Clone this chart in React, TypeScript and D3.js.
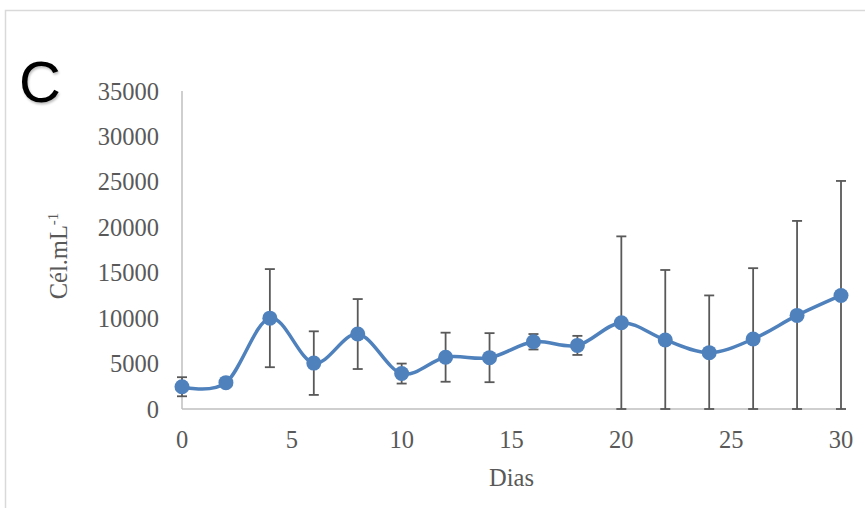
import React from "react"
import * as d3 from "d3"

// chart values
const days = [0, 2, 4, 6, 8, 10, 12, 14, 16, 18, 20, 22, 24, 26, 28, 30]
const cells = [2450, 2900, 10000, 5050, 8250, 3900, 5700, 5650, 7400, 7000, 9500, 7600, 6200, 7700, 10300, 12500]
const errs = [1050, 0, 5400, 3500, 3850, 1100, 2700, 2700, 850, 1050, 9500, 7700, 6300, 7800, 10400, 12600]
const xTicks = [0, 5, 10, 15, 20, 25, 30]
const yTicks = [0, 5000, 10000, 15000, 20000, 25000, 30000, 35000]

const W = 865
const H = 508
const left = 182
const right = 841
const top = 91
const bottom = 409

const blue = "#4F81BD"
const grey = "#595959"
const serif = "'Liberation Serif', 'Times New Roman', serif"

function App() {
  const x = d3.scaleLinear().domain([0, 30]).range([left, right])
  const y = d3.scaleLinear().domain([0, 35000]).range([bottom, top])

  const pts = days.map((d, i) => ({d, v: cells[i], e: errs[i]}))

  const line = d3.line<any>()
    .x(p => x(p.d))
    .y(p => y(p.v))
    .curve(d3.curveCardinal.tension(0))

  return (
    <div style={{position: "absolute", left: 0, top: 0}}>
      <svg width={W} height={H} style={{display: "block", background: "#fff"}}>
        {/* outer frame */}
        <rect x={5.5} y={10.5} width={W + 10} height={H + 10} fill="none" stroke="#D9D9D9" strokeWidth={1.5}/>

        <text x={40} y={102} fontFamily="'Liberation Sans', Arial, sans-serif" fontSize={58}
          textAnchor="middle" fill="#000" style={{filter: "drop-shadow(1px 2px 1px rgba(0,0,0,0.25))"}}>C</text>

        {/* axes */}
        <line x1={left} x2={left} y1={top} y2={bottom} stroke="#BFBFBF" strokeWidth={1.5}/>
        <line x1={left} x2={right + 2} y1={bottom} y2={bottom} stroke="#BFBFBF" strokeWidth={1.5}/>

        {yTicks.map(t => (
          <text key={t} x={159} y={y(t)} dy="0.35em" textAnchor="end" fontFamily={serif}
            fontSize={24.5} fill={grey}>{t}</text>
        ))}
        {xTicks.map(t => (
          <text key={t} x={x(t)} y={448} textAnchor="middle" fontFamily={serif}
            fontSize={24.5} fill={grey}>{t}</text>
        ))}

        <text transform={`translate(67,${(top + bottom) / 2 + 6}) rotate(-90)`} textAnchor="middle"
          fontFamily={serif} fontSize={24.5} fill={grey}>
          Cél.mL<tspan dy={-9} fontSize={15}>-1</tspan>
        </text>
        <text x={(left + right) / 2} y={486} textAnchor="middle" fontFamily={serif}
          fontSize={24.5} fill={grey}>Dias</text>

        {/* error bars */}
        {pts.filter(p => p.e > 0).map(p => {
          const hi = y(p.v + p.e)
          const lo = y(Math.max(0, p.v - p.e))
          const cx = x(p.d)
          return (
            <g key={p.d} stroke={grey} strokeWidth={1.8}>
              <line x1={cx} x2={cx} y1={hi} y2={lo}/>
              <line x1={cx - 5} x2={cx + 5} y1={hi} y2={hi}/>
              <line x1={cx - 5} x2={cx + 5} y1={lo} y2={lo}/>
            </g>
          )
        })}

        <path d={line(pts) || ""} fill="none" stroke={blue} strokeWidth={3.5} strokeLinecap="round"/>
        {pts.map(p => (
          <circle key={p.d} cx={x(p.d)} cy={y(p.v)} r={7.5} fill={blue}/>
        ))}
      </svg>
    </div>
  )
}

export default App
